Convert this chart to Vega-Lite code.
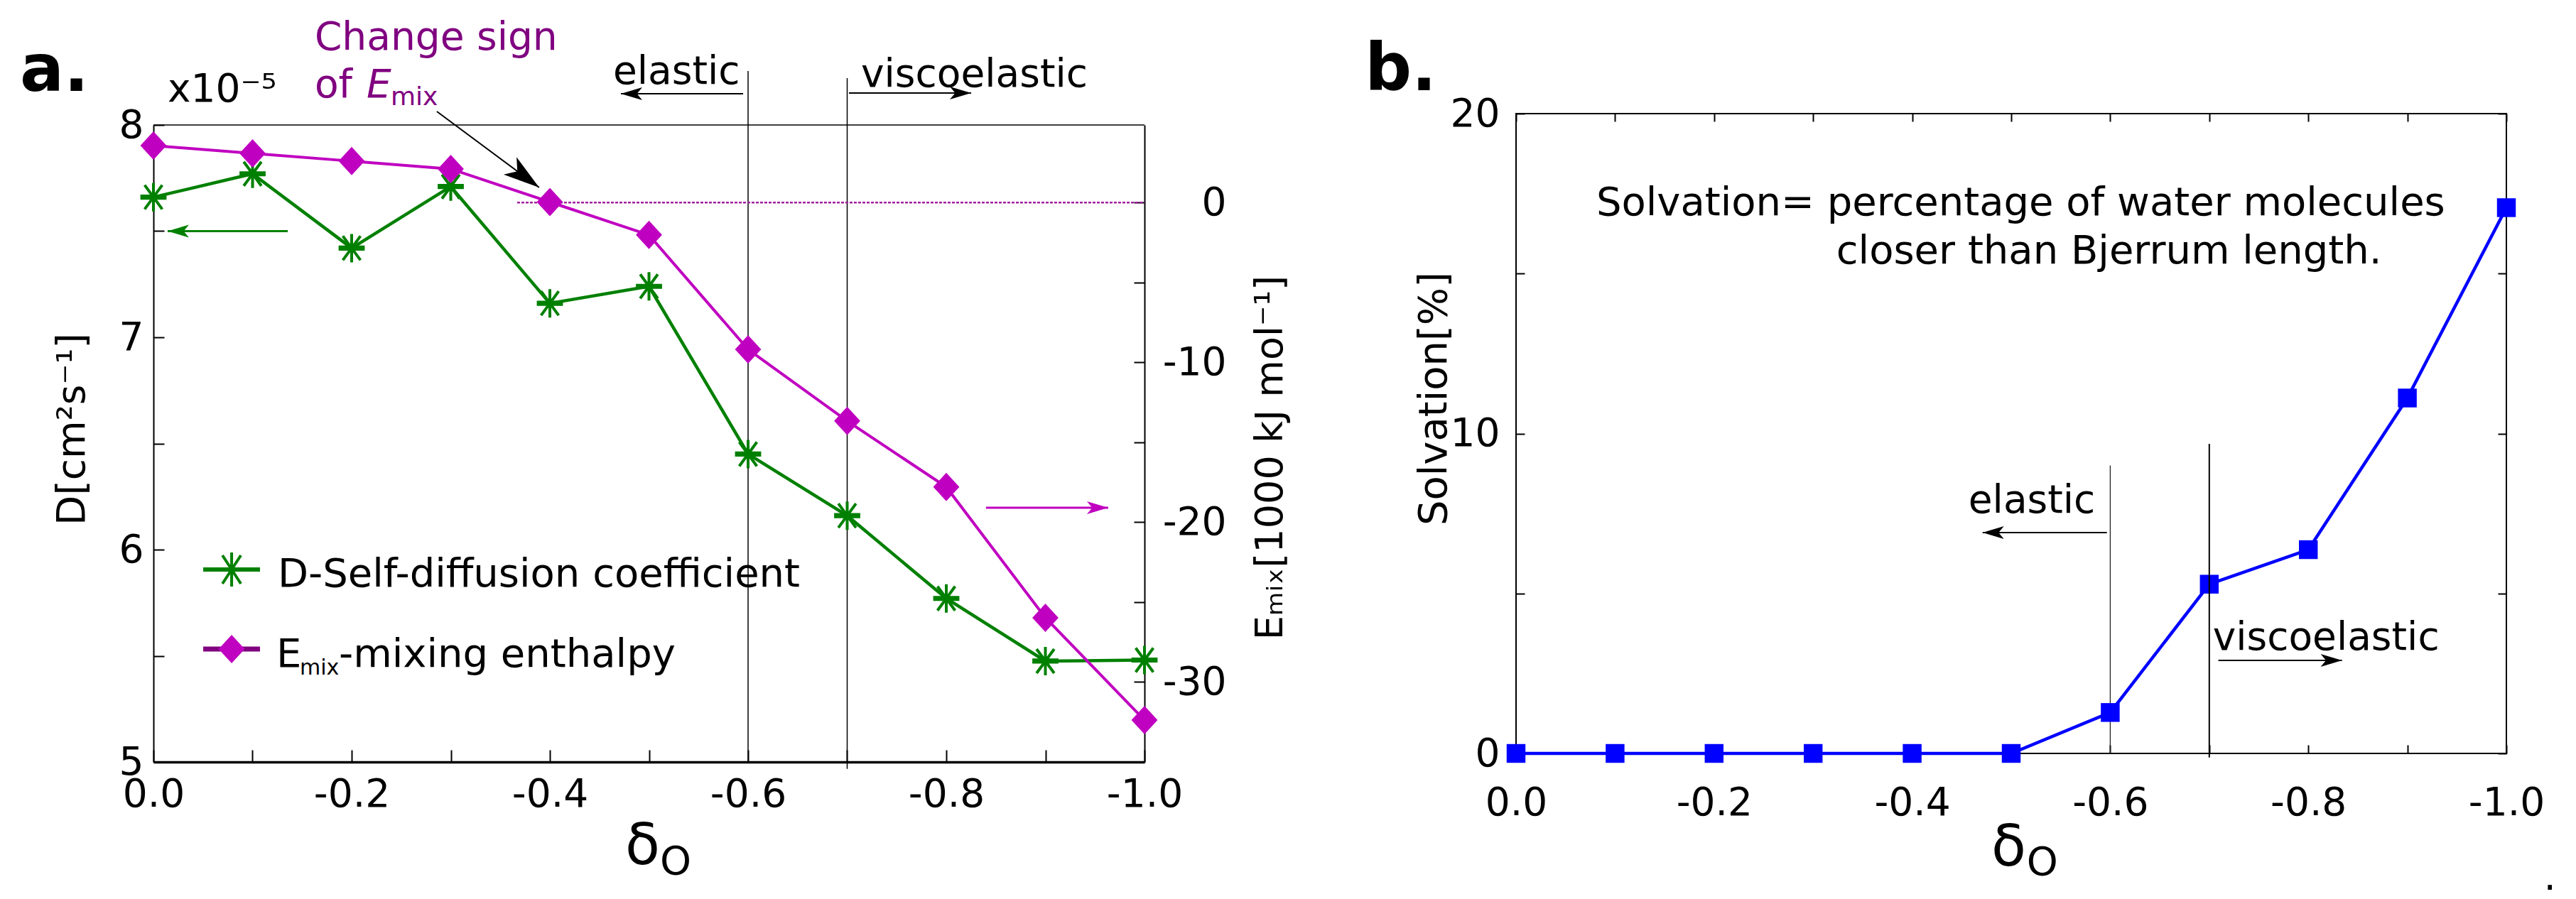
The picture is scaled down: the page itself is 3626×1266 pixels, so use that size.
{
  "$schema": "https://vega.github.io/schema/vega-lite/v6.json",
  "background": "white",
  "padding": {"left": 27, "top": 26, "right": 0, "bottom": 0},
  "autosize": {"type": "pad"},
  "bounds": "flush",
  "spacing": 523,
  "datasets": {
    "pa": [
      {"d": 0, "D": 7.66, "E": 3.56},
      {"d": -0.1, "D": 7.77, "E": 3.07},
      {"d": -0.2, "D": 7.42, "E": 2.59},
      {"d": -0.3, "D": 7.71, "E": 2.1},
      {"d": -0.4, "D": 7.16, "E": 0.03},
      {"d": -0.5, "D": 7.24, "E": -2.03},
      {"d": -0.6, "D": 6.45, "E": -9.19},
      {"d": -0.7, "D": 6.16, "E": -13.67},
      {"d": -0.8, "D": 5.77, "E": -17.8},
      {"d": -0.9, "D": 5.475, "E": -25.98},
      {"d": -1.0, "D": 5.48, "E": -32.38}
    ],
    "pb": [
      {"d": 0, "S": 0},
      {"d": -0.1, "S": 0},
      {"d": -0.2, "S": 0},
      {"d": -0.3, "S": 0},
      {"d": -0.4, "S": 0},
      {"d": -0.5, "S": 0},
      {"d": -0.6, "S": 1.28},
      {"d": -0.7, "S": 5.29},
      {"d": -0.8, "S": 6.37},
      {"d": -0.9, "S": 11.11},
      {"d": -1.0, "S": 17.06}
    ]
  },
  "config": {
    "view": {"stroke": null},
    "font": "DejaVu Sans",
    "axis": {
      "grid": false,
      "labelFont": "DejaVu Sans",
      "titleFont": "DejaVu Sans",
      "labelFontSize": 55,
      "titleFontSize": 55,
      "titleFontWeight": "normal",
      "labelColor": "#000",
      "titleColor": "#000",
      "tickColor": "#000",
      "domainColor": "#000",
      "tickWidth": 2,
      "domainWidth": 2,
      "labelOverlap": false,
      "labelFlush": false
    }
  },
  "hconcat": [
    {
      "width": 1395,
      "height": 913,
      "layer": [
        {
          "layer": [
            {
              "data": {"values": [{}]},
              "mark": {"type": "rule", "color": "#000", "strokeWidth": 1.5},
              "encoding": {
                "x": {"datum": 0, "type": "quantitative", "scale": {"domain": [0, -1], "nice": false}},
                "x2": {"datum": -1},
                "y": {"datum": 8, "type": "quantitative", "scale": {"domain": [5, 8], "nice": false, "range": [913, 16]}}
              }
            },
            {
              "data": {"values": [{}]},
              "mark": {"type": "rule", "color": "#000", "strokeWidth": 1.5},
              "encoding": {
                "x": {"datum": -0.6, "type": "quantitative", "scale": {"domain": [0, -1], "nice": false}},
                "y": {"datum": 8.254, "type": "quantitative", "scale": {"domain": [5, 8], "nice": false, "range": [913, 16]}},
                "y2": {"datum": 5}
              }
            },
            {
              "data": {"values": [{}]},
              "mark": {"type": "rule", "color": "#000", "strokeWidth": 1.5},
              "encoding": {
                "x": {"datum": -0.7, "type": "quantitative", "scale": {"domain": [0, -1], "nice": false}},
                "y": {"datum": 8.2207, "type": "quantitative", "scale": {"domain": [5, 8], "nice": false, "range": [913, 16]}},
                "y2": {"datum": 4.967}
              }
            },
            {
              "data": {"name": "pa"},
              "mark": {"type": "line", "color": "#008000", "strokeWidth": 4.5},
              "encoding": {
                "x": {
                  "field": "d", "type": "quantitative",
                  "scale": {"domain": [0, -1], "nice": false},
                  "axis": {
                    "values": [0, -0.1, -0.2, -0.3, -0.4, -0.5, -0.6, -0.7, -0.8, -0.9, -1],
                    "labelExpr": "abs(round(datum.value * 10)) % 2 == 0 ? (datum.value < 0 ? '-' : '') + format(abs(datum.value), '.1f') : ''",
                    "tickSize": -17,
                    "domainWidth": 3.5,
                    "labelPadding": 36,
                    "title": "δ",
                    "titleFontSize": 80,
                    "titleBaseline": "alphabetic",
                    "titleAlign": "center",
                    "titleX": 688,
                    "titleY": 143,
                    "encode": {"labels": {"dx": {"signal": "datum.value < 0 ? -13 : 12"}}}
                  }
                },
                "y": {
                  "field": "D", "type": "quantitative",
                  "scale": {"domain": [5, 8], "nice": false, "range": [913, 16]},
                  "axis": {
                    "values": [5, 5.5, 6, 6.5, 7, 7.5, 8],
                    "labelExpr": "datum.value % 1 == 0 ? '' + datum.value : ''",
                    "tickSize": -15,
                    "labelPadding": 29,
                    "labelBaseline": "middle",
                    "title": "D[cm²s⁻¹]",
                    "titleX": -98,
                    "titleY": 444,
                    "titleAngle": -90,
                    "titleAlign": "center",
                    "titleBaseline": "alphabetic"
                  }
                }
              }
            },
            {
              "data": {"name": "pa"},
              "mark": {
                "type": "point",
                "shape": "M-0.92,-0.08L0.92,-0.08M-0.92,0.08L0.92,0.08M0,-1L0,1M-0.62,-0.85L0.62,0.85M-0.62,0.85L0.62,-0.85",
                "filled": false, "size": 1600, "strokeWidth": 4, "opacity": 1, "color": "#008000"
              },
              "encoding": {
                "x": {"field": "d", "type": "quantitative", "scale": {"domain": [0, -1], "nice": false}},
                "y": {"field": "D", "type": "quantitative", "scale": {"domain": [5, 8], "nice": false, "range": [913, 16]}}
              }
            },
            {
              "data": {"values": [{}]},
              "mark": {"type": "rule", "color": "#008000", "strokeWidth": 6},
              "encoding": {
                "x": {"datum": -0.0502, "type": "quantitative", "scale": {"domain": [0, -1], "nice": false}},
                "x2": {"datum": -0.1075},
                "y": {"datum": 5.9064, "type": "quantitative", "scale": {"domain": [5, 8], "nice": false, "range": [913, 16]}}
              }
            },
            {
              "data": {"values": [{}]},
              "mark": {"type": "point", "shape": "M0,-1.2L0,1.2M-0.65,-1L0.65,1M-0.65,1L0.65,-1", "filled": false, "size": 1600, "strokeWidth": 4, "opacity": 1, "color": "#008000"},
              "encoding": {
                "x": {"datum": -0.0789, "type": "quantitative", "scale": {"domain": [0, -1], "nice": false}},
                "y": {"datum": 5.9064, "type": "quantitative", "scale": {"domain": [5, 8], "nice": false, "range": [913, 16]}}
              }
            },
            {
              "data": {"values": [{}]},
              "mark": {"type": "text", "text": "D-Self-diffusion coefficient", "align": "left", "baseline": "alphabetic", "fontSize": 56, "color": "#000"},
              "encoding": {
                "x": {"datum": -0.1254, "type": "quantitative", "scale": {"domain": [0, -1], "nice": false}},
                "y": {"datum": 5.826, "type": "quantitative", "scale": {"domain": [5, 8], "nice": false, "range": [913, 16]}}
              }
            },
            {
              "data": {"values": [{}]},
              "mark": {"type": "rule", "color": "#800080", "strokeWidth": 7},
              "encoding": {
                "x": {"datum": -0.0502, "type": "quantitative", "scale": {"domain": [0, -1], "nice": false}},
                "x2": {"datum": -0.1075},
                "y": {"datum": 5.5318, "type": "quantitative", "scale": {"domain": [5, 8], "nice": false, "range": [913, 16]}}
              }
            },
            {
              "data": {"values": [{}]},
              "mark": {"type": "point", "shape": "M0,-1L0.92,0L0,1L-0.92,0Z", "filled": true, "size": 1600, "opacity": 1, "color": "#c000c0"},
              "encoding": {
                "x": {"datum": -0.0789, "type": "quantitative", "scale": {"domain": [0, -1], "nice": false}},
                "y": {"datum": 5.5318, "type": "quantitative", "scale": {"domain": [5, 8], "nice": false, "range": [913, 16]}}
              }
            },
            {
              "data": {"values": [{}]},
              "mark": {"type": "text", "text": "E", "align": "left", "baseline": "alphabetic", "fontSize": 56, "color": "#000"},
              "encoding": {
                "x": {"datum": -0.124, "type": "quantitative", "scale": {"domain": [0, -1], "nice": false}},
                "y": {"datum": 5.4482, "type": "quantitative", "scale": {"domain": [5, 8], "nice": false, "range": [913, 16]}}
              }
            },
            {
              "data": {"values": [{}]},
              "mark": {"type": "text", "text": "mix", "align": "left", "baseline": "alphabetic", "fontSize": 30, "color": "#000"},
              "encoding": {
                "x": {"datum": -0.1477, "type": "quantitative", "scale": {"domain": [0, -1], "nice": false}},
                "y": {"datum": 5.4114, "type": "quantitative", "scale": {"domain": [5, 8], "nice": false, "range": [913, 16]}}
              }
            },
            {
              "data": {"values": [{}]},
              "mark": {"type": "text", "text": "-mixing enthalpy", "align": "left", "baseline": "alphabetic", "fontSize": 56, "color": "#000"},
              "encoding": {
                "x": {"datum": -0.1871, "type": "quantitative", "scale": {"domain": [0, -1], "nice": false}},
                "y": {"datum": 5.4482, "type": "quantitative", "scale": {"domain": [5, 8], "nice": false, "range": [913, 16]}}
              }
            },
            {
              "data": {"values": [{}]},
              "mark": {"type": "rule", "color": "#008000", "strokeWidth": 3},
              "encoding": {
                "x": {"datum": -0.1355, "type": "quantitative", "scale": {"domain": [0, -1], "nice": false}},
                "x2": {"datum": -0.0143},
                "y": {"datum": 7.5, "type": "quantitative", "scale": {"domain": [5, 8], "nice": false, "range": [913, 16]}}
              }
            },
            {
              "data": {"values": [{}]},
              "mark": {"type": "point", "shape": "M0,0L-2,-0.6L-1.5,0L-2,0.6Z", "filled": true, "size": 900, "angle": 180, "color": "#008000", "opacity": 1},
              "encoding": {
                "x": {"datum": -0.0143, "type": "quantitative", "scale": {"domain": [0, -1], "nice": false}},
                "y": {"datum": 7.5, "type": "quantitative", "scale": {"domain": [5, 8], "nice": false, "range": [913, 16]}}
              }
            },
            {
              "data": {"values": [{}]},
              "mark": {"type": "rule", "color": "#000", "strokeWidth": 2},
              "encoding": {
                "x": {"datum": -0.595, "type": "quantitative", "scale": {"domain": [0, -1], "nice": false}},
                "x2": {"datum": -0.4717},
                "y": {"datum": 8.147, "type": "quantitative", "scale": {"domain": [5, 8], "nice": false, "range": [913, 16]}}
              }
            },
            {
              "data": {"values": [{}]},
              "mark": {"type": "point", "shape": "M0,0L-2,-0.6L-1.5,0L-2,0.6Z", "filled": true, "size": 900, "angle": 180, "color": "#000", "opacity": 1},
              "encoding": {
                "x": {"datum": -0.4717, "type": "quantitative", "scale": {"domain": [0, -1], "nice": false}},
                "y": {"datum": 8.147, "type": "quantitative", "scale": {"domain": [5, 8], "nice": false, "range": [913, 16]}}
              }
            },
            {
              "data": {"values": [{}]},
              "mark": {"type": "rule", "color": "#000", "strokeWidth": 2},
              "encoding": {
                "x": {"datum": -0.7018, "type": "quantitative", "scale": {"domain": [0, -1], "nice": false}},
                "x2": {"datum": -0.8251},
                "y": {"datum": 8.1505, "type": "quantitative", "scale": {"domain": [5, 8], "nice": false, "range": [913, 16]}}
              }
            },
            {
              "data": {"values": [{}]},
              "mark": {"type": "point", "shape": "M0,0L-2,-0.6L-1.5,0L-2,0.6Z", "filled": true, "size": 900, "angle": 0, "color": "#000", "opacity": 1},
              "encoding": {
                "x": {"datum": -0.8251, "type": "quantitative", "scale": {"domain": [0, -1], "nice": false}},
                "y": {"datum": 8.1505, "type": "quantitative", "scale": {"domain": [5, 8], "nice": false, "range": [913, 16]}}
              }
            },
            {
              "data": {"values": [{}]},
              "mark": {"type": "rule", "color": "#000", "strokeWidth": 2},
              "encoding": {
                "x": {"datum": -0.286, "type": "quantitative", "scale": {"domain": [0, -1], "nice": false}},
                "x2": {"datum": -0.3892},
                "y": {"datum": 8.0635, "type": "quantitative", "scale": {"domain": [5, 8], "nice": false, "range": [913, 16]}},
                "y2": {"datum": 7.7057}
              }
            },
            {
              "data": {"values": [{}]},
              "mark": {"type": "point", "shape": "M0,0L-2,-0.6L-1.5,0L-2,0.6Z", "filled": true, "size": 2600, "angle": 36.6, "color": "#000", "opacity": 1},
              "encoding": {
                "x": {"datum": -0.3892, "type": "quantitative", "scale": {"domain": [0, -1], "nice": false}},
                "y": {"datum": 7.7057, "type": "quantitative", "scale": {"domain": [5, 8], "nice": false, "range": [913, 16]}}
              }
            },
            {
              "data": {"values": [{}]},
              "mark": {"type": "text", "text": "a.", "align": "left", "baseline": "alphabetic", "fontSize": 92, "fontWeight": "bold", "color": "#000"},
              "encoding": {
                "x": {"datum": 0.1348, "type": "quantitative", "scale": {"domain": [0, -1], "nice": false}},
                "y": {"datum": 8.1605, "type": "quantitative", "scale": {"domain": [5, 8], "nice": false, "range": [913, 16]}}
              }
            },
            {
              "data": {"values": [{}]},
              "mark": {"type": "text", "text": "x10⁻⁵", "align": "left", "baseline": "alphabetic", "fontSize": 55, "color": "#000"},
              "encoding": {
                "x": {"datum": -0.0143, "type": "quantitative", "scale": {"domain": [0, -1], "nice": false}},
                "y": {"datum": 8.11, "type": "quantitative", "scale": {"domain": [5, 8], "nice": false, "range": [913, 16]}}
              }
            },
            {
              "data": {"values": [{}]},
              "mark": {"type": "text", "text": "Change sign", "align": "left", "baseline": "alphabetic", "fontSize": 55, "color": "#800080"},
              "encoding": {
                "x": {"datum": -0.1627, "type": "quantitative", "scale": {"domain": [0, -1], "nice": false}},
                "y": {"datum": 8.3545, "type": "quantitative", "scale": {"domain": [5, 8], "nice": false, "range": [913, 16]}}
              }
            },
            {
              "data": {"values": [{}]},
              "mark": {"type": "text", "text": "of", "align": "left", "baseline": "alphabetic", "fontSize": 55, "color": "#800080"},
              "encoding": {
                "x": {"datum": -0.1627, "type": "quantitative", "scale": {"domain": [0, -1], "nice": false}},
                "y": {"datum": 8.132, "type": "quantitative", "scale": {"domain": [5, 8], "nice": false, "range": [913, 16]}}
              }
            },
            {
              "data": {"values": [{}]},
              "mark": {"type": "text", "text": "E", "align": "left", "baseline": "alphabetic", "fontSize": 55, "fontStyle": "italic", "color": "#800080"},
              "encoding": {
                "x": {"datum": -0.2151, "type": "quantitative", "scale": {"domain": [0, -1], "nice": false}},
                "y": {"datum": 8.132, "type": "quantitative", "scale": {"domain": [5, 8], "nice": false, "range": [913, 16]}}
              }
            },
            {
              "data": {"values": [{}]},
              "mark": {"type": "text", "text": "mix", "align": "left", "baseline": "alphabetic", "fontSize": 36, "color": "#800080"},
              "encoding": {
                "x": {"datum": -0.2394, "type": "quantitative", "scale": {"domain": [0, -1], "nice": false}},
                "y": {"datum": 8.0936, "type": "quantitative", "scale": {"domain": [5, 8], "nice": false, "range": [913, 16]}}
              }
            },
            {
              "data": {"values": [{}]},
              "mark": {"type": "text", "text": "elastic", "align": "left", "baseline": "alphabetic", "fontSize": 55, "color": "#000"},
              "encoding": {
                "x": {"datum": -0.4638, "type": "quantitative", "scale": {"domain": [0, -1], "nice": false}},
                "y": {"datum": 8.194, "type": "quantitative", "scale": {"domain": [5, 8], "nice": false, "range": [913, 16]}}
              }
            },
            {
              "data": {"values": [{}]},
              "mark": {"type": "text", "text": "viscoelastic", "align": "left", "baseline": "alphabetic", "fontSize": 55, "color": "#000"},
              "encoding": {
                "x": {"datum": -0.714, "type": "quantitative", "scale": {"domain": [0, -1], "nice": false}},
                "y": {"datum": 8.181, "type": "quantitative", "scale": {"domain": [5, 8], "nice": false, "range": [913, 16]}}
              }
            },
            {
              "data": {"values": [{}]},
              "mark": {"type": "text", "text": "O", "align": "left", "baseline": "alphabetic", "fontSize": 56, "color": "#000"},
              "encoding": {
                "x": {"datum": -0.5111, "type": "quantitative", "scale": {"domain": [0, -1], "nice": false}},
                "y": {"datum": 4.4716, "type": "quantitative", "scale": {"domain": [5, 8], "nice": false, "range": [913, 16]}}
              }
            }
          ]
        },
        {
          "layer": [
            {
              "data": {"values": [{}]},
              "mark": {"type": "rule", "color": "#a020a0", "strokeWidth": 2.5, "strokeDash": [4, 2]},
              "encoding": {
                "x": {"datum": -0.367, "type": "quantitative", "scale": {"domain": [0, -1], "nice": false}},
                "x2": {"datum": -1},
                "y": {"datum": 0, "type": "quantitative", "scale": {"domain": [-35, 4.85], "nice": false, "range": [913, 16]}}
              }
            },
            {
              "data": {"name": "pa"},
              "mark": {"type": "line", "color": "#c000c0", "strokeWidth": 4},
              "encoding": {
                "x": {"field": "d", "type": "quantitative", "scale": {"domain": [0, -1], "nice": false}},
                "y": {
                  "field": "E", "type": "quantitative",
                  "scale": {"domain": [-35, 4.85], "nice": false, "range": [913, 16]},
                  "axis": {
                    "orient": "right",
                    "values": [-35, -30, -25, -20, -15, -10, -5, 0],
                    "labelExpr": "datum.value % 10 == 0 ? '' + datum.value : ''",
                    "tickSize": -15,
                    "labelPadding": 130,
                    "labelAlign": "right",
                    "labelBaseline": "middle",
                    "title": "Eₘᵢₓ[1000 kJ mol⁻¹]",
                    "titleFontSize": 54,
                    "titleX": 193,
                    "titleY": 484,
                    "titleAngle": -90,
                    "titleAlign": "center",
                    "titleBaseline": "alphabetic"
                  }
                }
              }
            },
            {
              "data": {"name": "pa"},
              "mark": {"type": "point", "shape": "M0,-1L0.92,0L0,1L-0.92,0Z", "filled": true, "size": 1600, "opacity": 1, "color": "#c000c0"},
              "encoding": {
                "x": {"field": "d", "type": "quantitative", "scale": {"domain": [0, -1], "nice": false}},
                "y": {"field": "E", "type": "quantitative", "scale": {"domain": [-35, 4.85], "nice": false, "range": [913, 16]}}
              }
            },
            {
              "data": {"values": [{}]},
              "mark": {"type": "rule", "color": "#c000c0", "strokeWidth": 3},
              "encoding": {
                "x": {"datum": -0.8401, "type": "quantitative", "scale": {"domain": [0, -1], "nice": false}},
                "x2": {"datum": -0.9634},
                "y": {"datum": -19.1, "type": "quantitative", "scale": {"domain": [-35, 4.85], "nice": false, "range": [913, 16]}}
              }
            },
            {
              "data": {"values": [{}]},
              "mark": {"type": "point", "shape": "M0,0L-2,-0.6L-1.5,0L-2,0.6Z", "filled": true, "size": 900, "angle": 0, "color": "#c000c0", "opacity": 1},
              "encoding": {
                "x": {"datum": -0.9634, "type": "quantitative", "scale": {"domain": [0, -1], "nice": false}},
                "y": {"datum": -19.1, "type": "quantitative", "scale": {"domain": [-35, 4.85], "nice": false, "range": [913, 16]}}
              }
            }
          ]
        }
      ],
      "resolve": {"scale": {"y": "independent"}, "axis": {"y": "independent"}}
    },
    {
      "width": 1394,
      "height": 901,
      "view": {"stroke": "#000", "strokeWidth": 2},
      "layer": [
        {
          "layer": [
            {
              "data": {"values": [{}]},
              "mark": {"type": "rule", "color": "#222", "strokeWidth": 1.3},
              "encoding": {
                "x": {"datum": -0.6, "type": "quantitative", "scale": {"domain": [0, -1], "nice": false}},
                "y": {"datum": 9.0, "type": "quantitative", "scale": {"domain": [0, 20], "nice": false}},
                "y2": {"datum": 0}
              }
            },
            {
              "data": {"name": "pb"},
              "mark": {"type": "line", "color": "#0000ff", "strokeWidth": 4.5},
              "encoding": {
                "x": {
                  "field": "d", "type": "quantitative",
                  "scale": {"domain": [0, -1], "nice": false},
                  "axis": {
                    "values": [0, -0.1, -0.2, -0.3, -0.4, -0.5, -0.6, -0.7, -0.8, -0.9, -1],
                    "labelExpr": "abs(round(datum.value * 10)) % 2 == 0 ? (datum.value < 0 ? '-' : '') + format(abs(datum.value), '.1f') : ''",
                    "tickSize": -12,
                    "domain": false,
                    "labelPadding": 55,
                    "title": "δ",
                    "titleFontSize": 80,
                    "titleBaseline": "alphabetic",
                    "titleAlign": "center",
                    "titleX": 693,
                    "titleY": 157,
                    "encode": {"labels": {"dx": {"signal": "datum.value < 0 ? -7 : 15"}}}
                  }
                },
                "y": {
                  "field": "S", "type": "quantitative",
                  "scale": {"domain": [0, 20], "nice": false},
                  "axis": {
                    "values": [0, 5, 10, 15, 20],
                    "labelExpr": "datum.value % 10 == 0 ? '' + datum.value : ''",
                    "tickSize": -12,
                    "domain": false,
                    "labelPadding": 35,
                    "labelBaseline": "middle",
                    "title": "Solvation[%]",
                    "titleFontSize": 56,
                    "titleX": -99,
                    "titleY": 401,
                    "titleAngle": -90,
                    "titleAlign": "center",
                    "titleBaseline": "alphabetic"
                  }
                }
              }
            },
            {
              "data": {"name": "pb"},
              "mark": {"type": "square", "size": 700, "color": "#0000ff", "opacity": 1},
              "encoding": {
                "x": {"field": "d", "type": "quantitative", "scale": {"domain": [0, -1], "nice": false}},
                "y": {"field": "S", "type": "quantitative", "scale": {"domain": [0, 20], "nice": false}}
              }
            },
            {
              "data": {"values": [{}]},
              "mark": {"type": "rule", "color": "#000", "strokeWidth": 1.8},
              "encoding": {
                "x": {"datum": -0.5966, "type": "quantitative", "scale": {"domain": [0, -1], "nice": false}},
                "x2": {"datum": -0.4711},
                "y": {"datum": 6.903, "type": "quantitative", "scale": {"domain": [0, 20], "nice": false}}
              }
            },
            {
              "data": {"values": [{}]},
              "mark": {"type": "point", "shape": "M0,0L-2,-0.6L-1.5,0L-2,0.6Z", "filled": true, "size": 900, "angle": 180, "color": "#000", "opacity": 1},
              "encoding": {
                "x": {"datum": -0.4711, "type": "quantitative", "scale": {"domain": [0, -1], "nice": false}},
                "y": {"datum": 6.903, "type": "quantitative", "scale": {"domain": [0, 20], "nice": false}}
              }
            },
            {
              "data": {"values": [{}]},
              "mark": {"type": "rule", "color": "#000", "strokeWidth": 1.8},
              "encoding": {
                "x": {"datum": -0.7092, "type": "quantitative", "scale": {"domain": [0, -1], "nice": false}},
                "x2": {"datum": -0.834},
                "y": {"datum": 2.908, "type": "quantitative", "scale": {"domain": [0, 20], "nice": false}}
              }
            },
            {
              "data": {"values": [{}]},
              "mark": {"type": "point", "shape": "M0,0L-2,-0.6L-1.5,0L-2,0.6Z", "filled": true, "size": 900, "angle": 0, "color": "#000", "opacity": 1},
              "encoding": {
                "x": {"datum": -0.834, "type": "quantitative", "scale": {"domain": [0, -1], "nice": false}},
                "y": {"datum": 2.908, "type": "quantitative", "scale": {"domain": [0, 20], "nice": false}}
              }
            },
            {
              "data": {"values": [{}]},
              "mark": {"type": "text", "text": "b.", "align": "left", "baseline": "alphabetic", "fontSize": 92, "fontWeight": "bold", "color": "#000"},
              "encoding": {
                "x": {"datum": 0.1527, "type": "quantitative", "scale": {"domain": [0, -1], "nice": false}},
                "y": {"datum": 20.733, "type": "quantitative", "scale": {"domain": [0, 20], "nice": false}}
              }
            },
            {
              "data": {"values": [{}]},
              "mark": {"type": "text", "text": "Solvation= percentage of water molecules", "align": "left", "baseline": "alphabetic", "fontSize": 56, "color": "#000"},
              "encoding": {
                "x": {"datum": -0.081, "type": "quantitative", "scale": {"domain": [0, -1], "nice": false}},
                "y": {"datum": 16.826, "type": "quantitative", "scale": {"domain": [0, 20], "nice": false}}
              }
            },
            {
              "data": {"values": [{}]},
              "mark": {"type": "text", "text": "closer than Bjerrum length.", "align": "left", "baseline": "alphabetic", "fontSize": 56, "color": "#000"},
              "encoding": {
                "x": {"datum": -0.3234, "type": "quantitative", "scale": {"domain": [0, -1], "nice": false}},
                "y": {"datum": 15.316, "type": "quantitative", "scale": {"domain": [0, 20], "nice": false}}
              }
            },
            {
              "data": {"values": [{}]},
              "mark": {"type": "text", "text": "elastic", "align": "left", "baseline": "alphabetic", "fontSize": 55, "color": "#000"},
              "encoding": {
                "x": {"datum": -0.4568, "type": "quantitative", "scale": {"domain": [0, -1], "nice": false}},
                "y": {"datum": 7.525, "type": "quantitative", "scale": {"domain": [0, 20], "nice": false}}
              }
            },
            {
              "data": {"values": [{}]},
              "mark": {"type": "text", "text": "viscoelastic", "align": "left", "baseline": "alphabetic", "fontSize": 55, "color": "#000"},
              "encoding": {
                "x": {"datum": -0.7035, "type": "quantitative", "scale": {"domain": [0, -1], "nice": false}},
                "y": {"datum": 3.241, "type": "quantitative", "scale": {"domain": [0, 20], "nice": false}}
              }
            },
            {
              "data": {"values": [{}]},
              "mark": {"type": "text", "text": "O", "align": "left", "baseline": "alphabetic", "fontSize": 56, "color": "#000"},
              "encoding": {
                "x": {"datum": -0.5156, "type": "quantitative", "scale": {"domain": [0, -1], "nice": false}},
                "y": {"datum": -3.796, "type": "quantitative", "scale": {"domain": [0, 20], "nice": false}}
              }
            },
            {
              "data": {"values": [{}]},
              "mark": {"type": "text", "text": ".", "align": "left", "baseline": "alphabetic", "fontSize": 55, "color": "#000"},
              "encoding": {
                "x": {"datum": -1.0377, "type": "quantitative", "scale": {"domain": [0, -1], "nice": false}},
                "y": {"datum": -4.262, "type": "quantitative", "scale": {"domain": [0, 20], "nice": false}}
              }
            }
          ]
        },
        {
          "layer": [
            {
              "data": {"values": [{}]},
              "mark": {"type": "rule", "color": "#000", "strokeWidth": 2},
              "encoding": {
                "x": {
                  "datum": -0.7, "type": "quantitative",
                  "scale": {"domain": [0, -1], "nice": false},
                  "axis": {
                    "orient": "top",
                    "values": [0, -0.1, -0.2, -0.3, -0.4, -0.5, -0.6, -0.7, -0.8, -0.9, -1],
                    "labels": false,
                    "tickSize": -11,
                    "domain": false,
                    "title": null
                  }
                },
                "y": {
                  "datum": 9.68, "type": "quantitative",
                  "scale": {"domain": [0, 20], "nice": false},
                  "axis": {
                    "orient": "right",
                    "values": [0, 5, 10, 15, 20],
                    "labels": false,
                    "tickSize": -12,
                    "domain": false,
                    "title": null
                  }
                },
                "y2": {"datum": -0.13}
              }
            }
          ]
        }
      ],
      "resolve": {"scale": {"x": "independent", "y": "independent"}, "axis": {"x": "independent", "y": "independent"}}
    }
  ]
}
